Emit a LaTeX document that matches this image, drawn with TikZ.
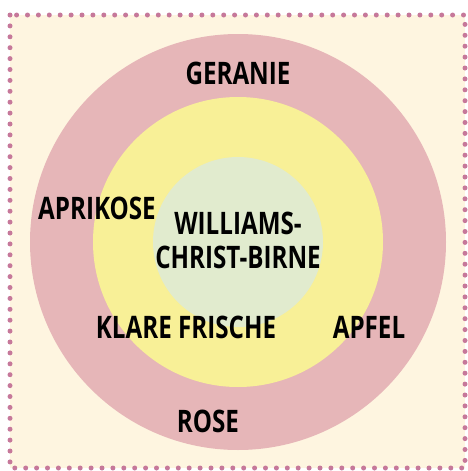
\documentclass[tikz,border=0pt]{standalone}
\usepackage{fontspec}
\setmainfont{Open Sans}[FakeStretch=0.78]
\usepackage{tikz}
\usetikzlibrary{positioning}

\definecolor{creambg}{HTML}{FEF5E0}
\definecolor{dotpink}{HTML}{C6789A}
\definecolor{rosering}{HTML}{E6B6B8}
\definecolor{yellowring}{HTML}{F8F097}
\definecolor{greencore}{HTML}{E1EBCE}

\begin{document}
\begin{tikzpicture}[
      x=1pt, y=-1pt,
      ring/.style={circle, draw=none, inner sep=0pt},
      tag/.style={font=\fontsize{31}{34}\selectfont\bfseries, text=black,
        align=center, inner sep=0pt}
    ]
    \useasboundingbox (0,0) rectangle (467,471);
    % frame
    \draw[dotpink, fill=creambg, line width=5pt, line cap=round,
      dash pattern=on 0pt off 10.9pt] (10,15) rectangle (465,468);

    % rings
    \node[ring, fill=rosering, minimum size=416pt] (rose) at (238,242) {};
    \node[ring, fill=yellowring, minimum size=290pt] (apfel) at (238,242) {};
    \node[ring, fill=greencore, minimum size=170pt] (birne) at (238,242) {};

    % labels
    \node[tag] (geranie) at (238,73) {GERANIE};
    \node[tag] (aprikose) at (97,208) {APRIKOSE};
    \node[tag] (williams) at (238,240) {WILLIAMS-\\CHRIST-BIRNE};
    \node[tag] (frische) at (186,327) {KLARE FRISCHE};
    \node[tag] (apfeltag) at (369,327) {APFEL};
    \node[tag] (rosetag) at (208,421) {ROSE};
  \end{tikzpicture}
\end{document}
